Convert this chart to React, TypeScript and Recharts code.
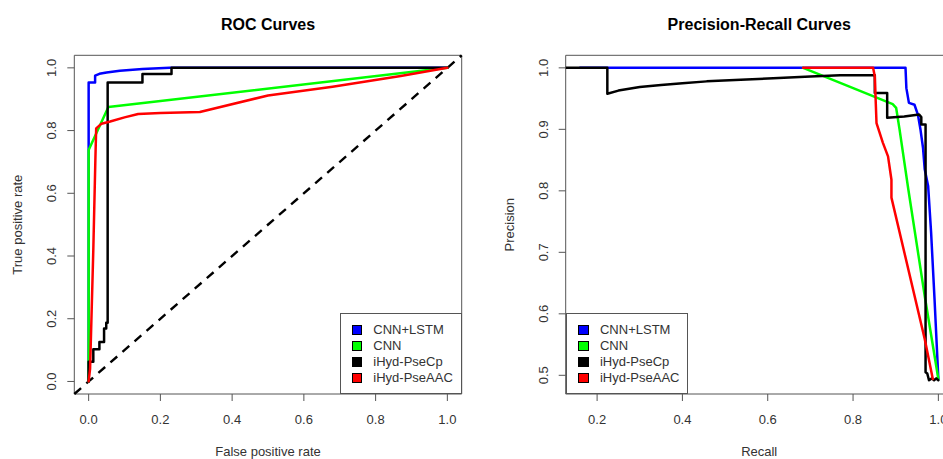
import React from 'react';
import {LineChart, Line, XAxis, YAxis, ReferenceArea, ReferenceLine} from 'recharts';

// ROC curves: [false positive rate, true positive rate]
const rocCnnLstm = [[0, 0], [0, 0.953], [0.018, 0.953], [0.018, 0.975], [0.03, 0.981], [0.05, 0.985], [0.087, 0.991], [0.15, 0.996], [0.226, 1.0], [1, 1]];
const rocCnn = [[0, 0], [0, 0.738], [0.055, 0.875], [1, 1]];
const rocPseCp = [[0, 0], [0, 0.063], [0.013, 0.063], [0.013, 0.103], [0.03, 0.103], [0.03, 0.126], [0.043, 0.126], [0.043, 0.169], [0.049, 0.169], [0.049, 0.187], [0.053, 0.187], [0.053, 0.953], [0.15, 0.953], [0.15, 0.98], [0.231, 0.98], [0.231, 1.0], [1, 1]];
const rocPseAac = [[0, 0], [0.004, 0.04], [0.013, 0.42], [0.019, 0.72], [0.021, 0.807], [0.036, 0.822], [0.06, 0.829], [0.1, 0.842], [0.138, 0.853], [0.2, 0.856], [0.31, 0.859], [0.5, 0.912], [0.68, 0.94], [0.87, 0.974], [1, 1]];

// PR curves: [recall, precision]
const prCnnLstm = [[0.16, 1], [0.923, 1], [0.925, 0.967], [0.931, 0.943], [0.944, 0.94], [0.952, 0.924], [0.958, 0.9], [0.964, 0.87], [0.968, 0.835], [0.976, 0.808], [0.983, 0.732], [0.991, 0.624], [1.0, 0.494]];
const prCnn = [[0.683, 1], [0.893, 0.941], [0.901, 0.935], [0.909, 0.9], [0.929, 0.805], [0.968, 0.629], [1.0, 0.494]];
const prPseCp = [[0, 1], [0.224, 1], [0.224, 0.958], [0.25, 0.963], [0.3, 0.969], [0.35, 0.972], [0.4, 0.975], [0.457, 0.978], [0.55, 0.981], [0.613, 0.983], [0.7, 0.986], [0.77, 0.988], [0.851, 0.988], [0.851, 0.959], [0.88, 0.959], [0.88, 0.919], [0.92, 0.921], [0.955, 0.924], [0.96, 0.92], [0.96, 0.908], [0.97, 0.908], [0.97, 0.505], [0.974, 0.503], [0.978, 0.492], [0.985, 0.495], [0.99, 0.492], [0.995, 0.495], [1.0, 0.492]];
const prPseAac = [[0.683, 1], [0.847, 1], [0.851, 0.986], [0.855, 0.91], [0.87, 0.878], [0.882, 0.856], [0.89, 0.818], [0.89, 0.789], [0.968, 0.559], [0.987, 0.494]];

const seriesNames = ['CNN+LSTM', 'CNN', 'iHyd-PseCp', 'iHyd-PseAAC'];
const seriesColors = ['#0000ff', '#00ff00', '#000000', '#ff0000'];

const rocTicks = [0, 0.2, 0.4, 0.6, 0.8, 1.0];
const prXTicks = [0.2, 0.4, 0.6, 0.8, 1.0];
const prYTicks = [0.5, 0.6, 0.7, 0.8, 0.9, 1.0];

const FONT = '"Liberation Sans", Arial, sans-serif';
const INK = '#333';
const FRAME = '#555';

const toPts = (arr: number[][]) => arr.map(([x, y]) => ({x, y}));

interface PanelProps {
    left: number
    width: number
    margin: {top: number, right: number, bottom: number, left: number}
    title: string
    xLabel: string
    yLabel: string
    xDomain: [number, number]
    yDomain: [number, number]
    xTicks: number[]
    yTicks: number[]
    series: number[][][]
    diagonal?: boolean
}

const Panel: React.FunctionComponent<PanelProps> = (p) => {
    const plotLeft = p.margin.left + 20;
    const plotW = p.width - plotLeft - p.margin.right;
    const cx = plotLeft + plotW / 2;

    const XTick = (props: any) => (
        <g>
            <text x={props.x} y={424} textAnchor="middle" fontSize={13} fill={INK} fontFamily={FONT}>
                {Number(props.payload.value).toFixed(1)}
            </text>
        </g>
    );
    const YTick = (props: any) => {
        const bx = plotLeft - 17.8;
        return (
            <g>
                <text x={bx} y={props.y} transform={`rotate(-90, ${bx}, ${props.y})`} textAnchor="middle"
                      fontSize={13} fill={INK} fontFamily={FONT}>
                    {Number(props.payload.value).toFixed(1)}
                </text>
            </g>
        );
    };

    return (
        <div style={{position: 'absolute', left: p.left, top: 0}}>
            <LineChart width={p.width} height={459} margin={p.margin}>
                <XAxis type="number" dataKey="x" domain={p.xDomain} ticks={p.xTicks} allowDataOverflow
                       height={20} axisLine={false} tickSize={7} tickLine={{stroke: FRAME}} tick={XTick}
                       interval={0}/>
                <YAxis type="number" dataKey="y" domain={p.yDomain} ticks={p.yTicks} allowDataOverflow
                       width={20} axisLine={false} tickSize={7} tickLine={{stroke: FRAME}} tick={YTick}
                       interval={0}/>
                <ReferenceArea x1={p.xDomain[0]} x2={p.xDomain[1]} y1={p.yDomain[0]} y2={p.yDomain[1]}
                               fill="none" stroke={FRAME} strokeWidth={1} ifOverflow="visible"/>
                {p.diagonal && (
                    <ReferenceLine segment={[{x: p.xDomain[0], y: p.yDomain[0]}, {x: p.xDomain[1], y: p.yDomain[1]}]}
                                   stroke="#000" strokeWidth={2.4} strokeDasharray="9 7" ifOverflow="visible"/>
                )}
                {p.series.map((s, i) => (
                    <Line key={seriesNames[i]} data={toPts(s)} dataKey="y" type="linear" stroke={seriesColors[i]}
                          strokeWidth={2.5} dot={false} activeDot={false} isAnimationActive={false}
                          strokeLinejoin="round" strokeLinecap="round"/>
                ))}
                <text x={cx} y={29.5} textAnchor="middle" fontSize={16} fontWeight="bold" fill="#000"
                      fontFamily={FONT}>{p.title}</text>
                <text x={cx} y={455.5} textAnchor="middle" fontSize={13} fill={INK}
                      fontFamily={FONT}>{p.xLabel}</text>
                <text x={plotLeft - 51.8} y={224.7} transform={`rotate(-90, ${plotLeft - 51.8}, 224.7)`}
                      textAnchor="middle" fontSize={13} fill={INK} fontFamily={FONT}>{p.yLabel}</text>
            </LineChart>
        </div>
    );
};

const LegendBox: React.FunctionComponent<{left: number, width: number, sqLeft: number, txtLeft: number}> = (
    {left, width, sqLeft, txtLeft}) => (
    <div style={{
        position: 'absolute', left, top: 313.3, width, height: 80.7, boxSizing: 'border-box',
        border: `1px solid ${FRAME}`, background: '#fff', fontFamily: FONT, fontSize: 13, color: INK
    }}>
        {seriesNames.map((name, i) => (
            <div key={name} style={{position: 'absolute', left: 0, top: 7.7 + 16 * i, height: 16, width: '100%'}}>
                <div style={{
                    position: 'absolute', left: sqLeft, top: 2.7, width: 10.6, height: 10.6, boxSizing: 'border-box',
                    background: seriesColors[i], border: '1px solid #000'
                }}/>
                <div style={{position: 'absolute', left: txtLeft, top: 0, lineHeight: '16px', whiteSpace: 'nowrap'}}>
                    {name}
                </div>
            </div>
        ))}
    </div>
);

const App: React.FunctionComponent = () => {
    return (
        <div style={{position: 'absolute', left: 0, top: 0, width: 943, height: 459, overflow: 'hidden', background: '#fff'}}>
            <Panel left={0} width={470} margin={{top: 55.3, right: 8.3, bottom: 45, left: 54.3}}
                   title="ROC Curves" xLabel="False positive rate" yLabel="True positive rate"
                   xDomain={[-0.04, 1.04]} yDomain={[-0.04, 1.04]} xTicks={rocTicks} yTicks={rocTicks}
                   series={[rocCnnLstm, rocCnn, rocPseCp, rocPseAac]} diagonal/>
            <Panel left={470} width={500} margin={{top: 55.3, right: 17.3, bottom: 45, left: 75.7}}
                   title="Precision-Recall Curves" xLabel="Recall" yLabel="Precision"
                   xDomain={[0.1264, 1.0336]} yDomain={[0.4696, 1.0204]} xTicks={prXTicks} yTicks={prYTicks}
                   series={[prCnnLstm, prCnn, prPseCp, prPseAac]}/>
            <LegendBox left={340} width={121.7} sqLeft={10.7} txtLeft={32.3}/>
            <LegendBox left={565.7} width={122.6} sqLeft={11.6} txtLeft={33.3}/>
        </div>
    );
};

export default App;
